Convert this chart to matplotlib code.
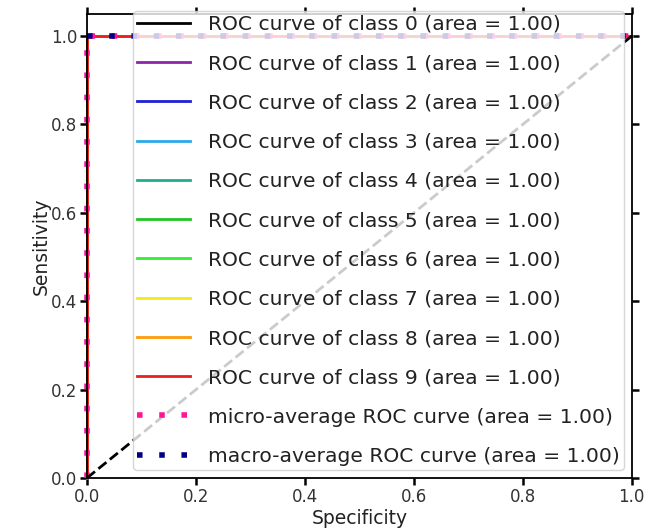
import matplotlib
matplotlib.use("Agg")
import matplotlib.pyplot as plt

# Data
class_names = [f"ROC curve of class {i} (area = 1.00)" for i in range(10)]
class_fpr = [[0.0, 0.0, 1.0] for _ in range(10)]
class_tpr = [[0.0, 1.0, 1.0] for _ in range(10)]
class_colors = ["#000000", "#8e24aa", "#1f1fd6", "#2ea8e8", "#1fae8c",
                "#22c422", "#33ee33", "#f0ea1c", "#ff9a0a", "#e8201e"]
micro_fpr = [0.0, 0.0, 1.0]
micro_tpr = [0.0, 1.0, 1.0]
macro_fpr = [0.0, 1.0]
macro_tpr = [1.0, 1.0]
micro_label = "micro-average ROC curve (area = 1.00)"
macro_label = "macro-average ROC curve (area = 1.00)"
ticks = [0.0, 0.2, 0.4, 0.6, 0.8, 1.0]

fig = plt.figure(figsize=(6.54, 5.31), dpi=100)
ax = fig.add_axes([0.133, 0.0998, 0.833, 0.874])

for i in range(10):
    ax.plot(class_fpr[i], class_tpr[i], color=class_colors[i], lw=2,
            label=class_names[i], clip_on=False)
ax.plot(micro_fpr, micro_tpr, color="deeppink", linestyle=(0, (1, 3)), lw=4,
        label=micro_label, clip_on=False)
ax.plot(macro_fpr, macro_tpr, color="navy", linestyle=(0, (1, 3)), lw=4,
        label=macro_label, clip_on=False)
ax.plot([0, 1], [0, 1], "k--", lw=2)

ax.set_xlim(0.0, 1.0)
ax.set_ylim(0.0, 1.05)
ax.set_xticks(ticks)
ax.set_yticks(ticks)
ax.tick_params(axis="both", which="both", top=True, right=True,
               labelsize=12, width=1.8, length=5, colors="black",
               labelcolor="#333333", pad=2)
for s in ax.spines.values():
    s.set_linewidth(1.3)
ax.set_xlabel("Specificity", fontsize=13.5, labelpad=2, color="#222222")
ax.set_ylabel("Sensitivity", fontsize=13.5, labelpad=0, color="#222222")

leg = ax.legend(loc="lower right", fontsize=14.6, labelspacing=1.0,
                handlelength=2.6, handletextpad=0.9, borderaxespad=0.4,
                borderpad=0.2)
for t in leg.get_texts():
    t.set_color("#222222")

fig.savefig("out.png", dpi=100)
